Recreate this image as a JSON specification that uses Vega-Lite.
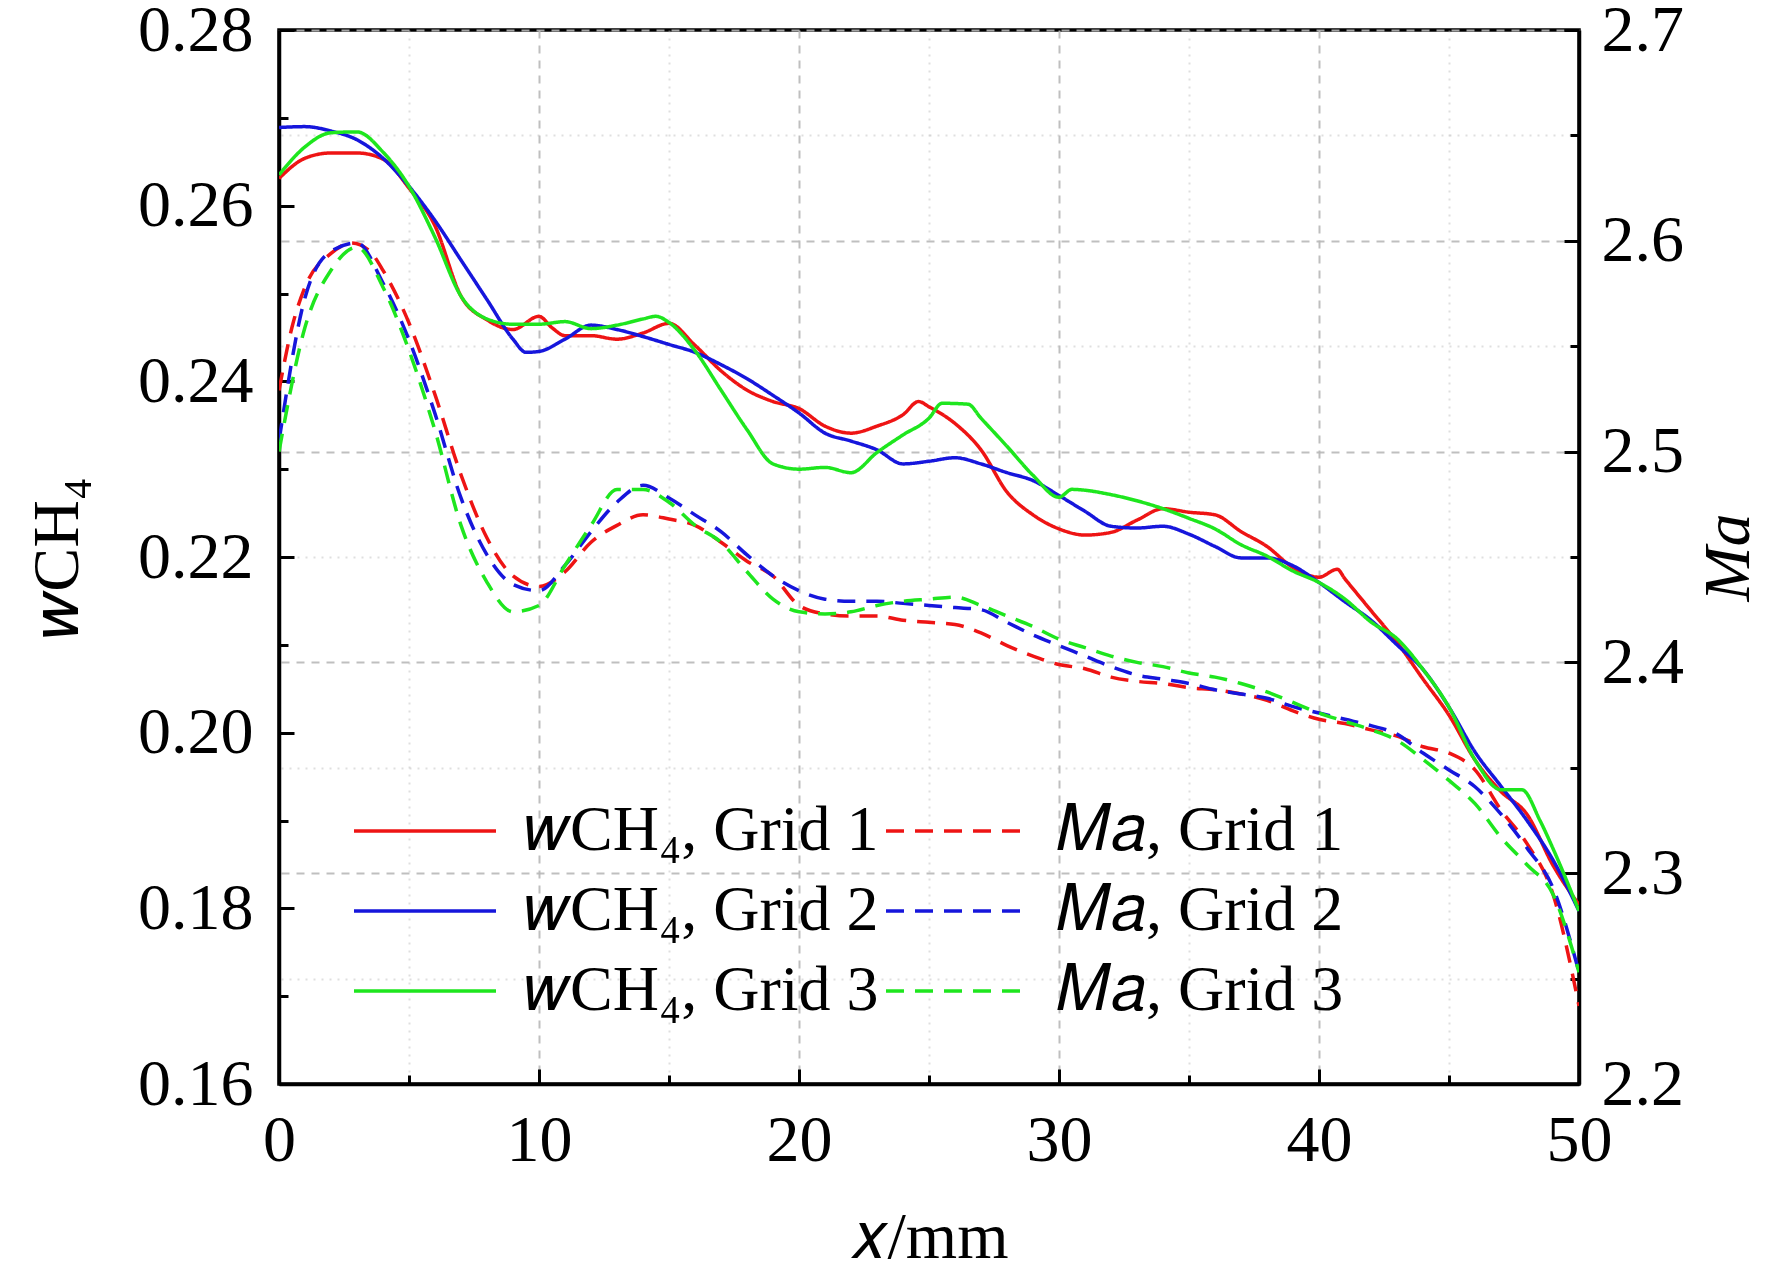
{
  "$schema": "https://vega.github.io/schema/vega-lite/v6.json",
  "width": 1300,
  "height": 1054,
  "autosize": {"type": "none"},
  "padding": {"left": 279, "top": 30, "right": 193, "bottom": 190},
  "background": "white",
  "config": {
    "font": "Liberation Serif",
    "view": {"stroke": "black", "strokeWidth": 3.5},
    "axis": {
      "domainColor": "black", "domainWidth": 3.5,
      "tickColor": "black", "tickWidth": 3,
      "labelFont": "Liberation Serif", "labelFontSize": 66, "labelColor": "black",
      "titleFont": "Liberation Serif", "titleFontSize": 66, "titleFontWeight": "normal", "titleColor": "black",
      "labelFlush": false, "labelOverlap": false, "grid": false
    }
  },
  "datasets": {
    "w": [
      {"x": 0, "s": "𝑤CH₄, Grid 1", "w": 0.2631}, {"x": 1, "s": "𝑤CH₄, Grid 1", "w": 0.2654}, {"x": 2, "s": "𝑤CH₄, Grid 1", "w": 0.266}, {"x": 3, "s": "𝑤CH₄, Grid 1", "w": 0.266},
      {"x": 4, "s": "𝑤CH₄, Grid 1", "w": 0.2653}, {"x": 5, "s": "𝑤CH₄, Grid 1", "w": 0.262}, {"x": 6, "s": "𝑤CH₄, Grid 1", "w": 0.2577}, {"x": 7, "s": "𝑤CH₄, Grid 1", "w": 0.2497},
      {"x": 8, "s": "𝑤CH₄, Grid 1", "w": 0.247}, {"x": 9, "s": "𝑤CH₄, Grid 1", "w": 0.2459}, {"x": 10, "s": "𝑤CH₄, Grid 1", "w": 0.2474}, {"x": 10.5, "s": "𝑤CH₄, Grid 1", "w": 0.2461},
      {"x": 11, "s": "𝑤CH₄, Grid 1", "w": 0.2452}, {"x": 12, "s": "𝑤CH₄, Grid 1", "w": 0.2452}, {"x": 13, "s": "𝑤CH₄, Grid 1", "w": 0.2448}, {"x": 14, "s": "𝑤CH₄, Grid 1", "w": 0.2455},
      {"x": 15, "s": "𝑤CH₄, Grid 1", "w": 0.2466}, {"x": 16, "s": "𝑤CH₄, Grid 1", "w": 0.2441}, {"x": 17, "s": "𝑤CH₄, Grid 1", "w": 0.2412}, {"x": 18, "s": "𝑤CH₄, Grid 1", "w": 0.239},
      {"x": 19, "s": "𝑤CH₄, Grid 1", "w": 0.2377}, {"x": 20, "s": "𝑤CH₄, Grid 1", "w": 0.2369}, {"x": 21, "s": "𝑤CH₄, Grid 1", "w": 0.2349}, {"x": 22, "s": "𝑤CH₄, Grid 1", "w": 0.2341},
      {"x": 23, "s": "𝑤CH₄, Grid 1", "w": 0.2349}, {"x": 24, "s": "𝑤CH₄, Grid 1", "w": 0.2362}, {"x": 24.6, "s": "𝑤CH₄, Grid 1", "w": 0.2377}, {"x": 25, "s": "𝑤CH₄, Grid 1", "w": 0.2371},
      {"x": 26, "s": "𝑤CH₄, Grid 1", "w": 0.2352}, {"x": 27, "s": "𝑤CH₄, Grid 1", "w": 0.2322}, {"x": 28, "s": "𝑤CH₄, Grid 1", "w": 0.2274}, {"x": 29, "s": "𝑤CH₄, Grid 1", "w": 0.2248},
      {"x": 30, "s": "𝑤CH₄, Grid 1", "w": 0.2232}, {"x": 31, "s": "𝑤CH₄, Grid 1", "w": 0.2225}, {"x": 32, "s": "𝑤CH₄, Grid 1", "w": 0.2228}, {"x": 33, "s": "𝑤CH₄, Grid 1", "w": 0.2242},
      {"x": 34, "s": "𝑤CH₄, Grid 1", "w": 0.2255}, {"x": 35, "s": "𝑤CH₄, Grid 1", "w": 0.2251}, {"x": 36, "s": "𝑤CH₄, Grid 1", "w": 0.2248}, {"x": 37, "s": "𝑤CH₄, Grid 1", "w": 0.2229},
      {"x": 38, "s": "𝑤CH₄, Grid 1", "w": 0.2212}, {"x": 39, "s": "𝑤CH₄, Grid 1", "w": 0.2188}, {"x": 40, "s": "𝑤CH₄, Grid 1", "w": 0.2177}, {"x": 40.7, "s": "𝑤CH₄, Grid 1", "w": 0.2186},
      {"x": 41, "s": "𝑤CH₄, Grid 1", "w": 0.2175}, {"x": 42, "s": "𝑤CH₄, Grid 1", "w": 0.2139}, {"x": 43, "s": "𝑤CH₄, Grid 1", "w": 0.2103}, {"x": 44, "s": "𝑤CH₄, Grid 1", "w": 0.2061},
      {"x": 45, "s": "𝑤CH₄, Grid 1", "w": 0.202}, {"x": 46, "s": "𝑤CH₄, Grid 1", "w": 0.1969}, {"x": 47, "s": "𝑤CH₄, Grid 1", "w": 0.1933}, {"x": 48, "s": "𝑤CH₄, Grid 1", "w": 0.1907},
      {"x": 49, "s": "𝑤CH₄, Grid 1", "w": 0.1849}, {"x": 50, "s": "𝑤CH₄, Grid 1", "w": 0.1804},

      {"x": 0, "s": "𝑤CH₄, Grid 2", "w": 0.2689}, {"x": 1, "s": "𝑤CH₄, Grid 2", "w": 0.269}, {"x": 2, "s": "𝑤CH₄, Grid 2", "w": 0.2685}, {"x": 3, "s": "𝑤CH₄, Grid 2", "w": 0.2675},
      {"x": 4, "s": "𝑤CH₄, Grid 2", "w": 0.2654}, {"x": 5, "s": "𝑤CH₄, Grid 2", "w": 0.2622}, {"x": 6, "s": "𝑤CH₄, Grid 2", "w": 0.2583}, {"x": 7, "s": "𝑤CH₄, Grid 2", "w": 0.2538},
      {"x": 8, "s": "𝑤CH₄, Grid 2", "w": 0.2493}, {"x": 9, "s": "𝑤CH₄, Grid 2", "w": 0.2448}, {"x": 9.5, "s": "𝑤CH₄, Grid 2", "w": 0.2433}, {"x": 10, "s": "𝑤CH₄, Grid 2", "w": 0.2434},
      {"x": 11, "s": "𝑤CH₄, Grid 2", "w": 0.2448}, {"x": 12, "s": "𝑤CH₄, Grid 2", "w": 0.2464}, {"x": 13, "s": "𝑤CH₄, Grid 2", "w": 0.2459}, {"x": 14, "s": "𝑤CH₄, Grid 2", "w": 0.2451},
      {"x": 15, "s": "𝑤CH₄, Grid 2", "w": 0.2442}, {"x": 16, "s": "𝑤CH₄, Grid 2", "w": 0.2433}, {"x": 17, "s": "𝑤CH₄, Grid 2", "w": 0.2419}, {"x": 18, "s": "𝑤CH₄, Grid 2", "w": 0.2403},
      {"x": 19, "s": "𝑤CH₄, Grid 2", "w": 0.2384}, {"x": 20, "s": "𝑤CH₄, Grid 2", "w": 0.2364}, {"x": 21, "s": "𝑤CH₄, Grid 2", "w": 0.2341}, {"x": 22, "s": "𝑤CH₄, Grid 2", "w": 0.2332},
      {"x": 23, "s": "𝑤CH₄, Grid 2", "w": 0.2322}, {"x": 24, "s": "𝑤CH₄, Grid 2", "w": 0.2306}, {"x": 25, "s": "𝑤CH₄, Grid 2", "w": 0.2309}, {"x": 26, "s": "𝑤CH₄, Grid 2", "w": 0.2313},
      {"x": 27, "s": "𝑤CH₄, Grid 2", "w": 0.2306}, {"x": 28, "s": "𝑤CH₄, Grid 2", "w": 0.2296}, {"x": 29, "s": "𝑤CH₄, Grid 2", "w": 0.2287}, {"x": 30, "s": "𝑤CH₄, Grid 2", "w": 0.227},
      {"x": 31, "s": "𝑤CH₄, Grid 2", "w": 0.2252}, {"x": 32, "s": "𝑤CH₄, Grid 2", "w": 0.2235}, {"x": 33, "s": "𝑤CH₄, Grid 2", "w": 0.2233}, {"x": 34, "s": "𝑤CH₄, Grid 2", "w": 0.2235},
      {"x": 35, "s": "𝑤CH₄, Grid 2", "w": 0.2226}, {"x": 36, "s": "𝑤CH₄, Grid 2", "w": 0.2212}, {"x": 37, "s": "𝑤CH₄, Grid 2", "w": 0.2199}, {"x": 38, "s": "𝑤CH₄, Grid 2", "w": 0.2199},
      {"x": 39, "s": "𝑤CH₄, Grid 2", "w": 0.219}, {"x": 40, "s": "𝑤CH₄, Grid 2", "w": 0.2171}, {"x": 41, "s": "𝑤CH₄, Grid 2", "w": 0.2149}, {"x": 42, "s": "𝑤CH₄, Grid 2", "w": 0.2128},
      {"x": 43, "s": "𝑤CH₄, Grid 2", "w": 0.21}, {"x": 44, "s": "𝑤CH₄, Grid 2", "w": 0.2072}, {"x": 45, "s": "𝑤CH₄, Grid 2", "w": 0.2029}, {"x": 46, "s": "𝑤CH₄, Grid 2", "w": 0.1978},
      {"x": 47, "s": "𝑤CH₄, Grid 2", "w": 0.1939}, {"x": 48, "s": "𝑤CH₄, Grid 2", "w": 0.19}, {"x": 49, "s": "𝑤CH₄, Grid 2", "w": 0.1855}, {"x": 50, "s": "𝑤CH₄, Grid 2", "w": 0.1797},

      {"x": 0, "s": "𝑤CH₄, Grid 3", "w": 0.2635}, {"x": 1, "s": "𝑤CH₄, Grid 3", "w": 0.2667}, {"x": 2, "s": "𝑤CH₄, Grid 3", "w": 0.2683}, {"x": 3, "s": "𝑤CH₄, Grid 3", "w": 0.2684},
      {"x": 4, "s": "𝑤CH₄, Grid 3", "w": 0.2661}, {"x": 5, "s": "𝑤CH₄, Grid 3", "w": 0.2622}, {"x": 6, "s": "𝑤CH₄, Grid 3", "w": 0.2564}, {"x": 7, "s": "𝑤CH₄, Grid 3", "w": 0.2497},
      {"x": 8, "s": "𝑤CH₄, Grid 3", "w": 0.2471}, {"x": 9, "s": "𝑤CH₄, Grid 3", "w": 0.2465}, {"x": 10, "s": "𝑤CH₄, Grid 3", "w": 0.2465}, {"x": 11, "s": "𝑤CH₄, Grid 3", "w": 0.2468},
      {"x": 12, "s": "𝑤CH₄, Grid 3", "w": 0.246}, {"x": 13, "s": "𝑤CH₄, Grid 3", "w": 0.2464}, {"x": 14, "s": "𝑤CH₄, Grid 3", "w": 0.2471}, {"x": 14.5, "s": "𝑤CH₄, Grid 3", "w": 0.2474},
      {"x": 15, "s": "𝑤CH₄, Grid 3", "w": 0.2467}, {"x": 16, "s": "𝑤CH₄, Grid 3", "w": 0.2435}, {"x": 17, "s": "𝑤CH₄, Grid 3", "w": 0.239}, {"x": 18, "s": "𝑤CH₄, Grid 3", "w": 0.2345},
      {"x": 19, "s": "𝑤CH₄, Grid 3", "w": 0.2306}, {"x": 20, "s": "𝑤CH₄, Grid 3", "w": 0.23}, {"x": 21, "s": "𝑤CH₄, Grid 3", "w": 0.2302}, {"x": 22, "s": "𝑤CH₄, Grid 3", "w": 0.2296},
      {"x": 23, "s": "𝑤CH₄, Grid 3", "w": 0.2319}, {"x": 24, "s": "𝑤CH₄, Grid 3", "w": 0.2339}, {"x": 25, "s": "𝑤CH₄, Grid 3", "w": 0.2358}, {"x": 25.5, "s": "𝑤CH₄, Grid 3", "w": 0.2375},
      {"x": 26.5, "s": "𝑤CH₄, Grid 3", "w": 0.2374}, {"x": 27, "s": "𝑤CH₄, Grid 3", "w": 0.2358}, {"x": 28, "s": "𝑤CH₄, Grid 3", "w": 0.2326}, {"x": 29, "s": "𝑤CH₄, Grid 3", "w": 0.2293},
      {"x": 30, "s": "𝑤CH₄, Grid 3", "w": 0.2268}, {"x": 30.5, "s": "𝑤CH₄, Grid 3", "w": 0.2277}, {"x": 31, "s": "𝑤CH₄, Grid 3", "w": 0.2276}, {"x": 32, "s": "𝑤CH₄, Grid 3", "w": 0.2271},
      {"x": 33, "s": "𝑤CH₄, Grid 3", "w": 0.2264}, {"x": 34, "s": "𝑤CH₄, Grid 3", "w": 0.2255}, {"x": 35, "s": "𝑤CH₄, Grid 3", "w": 0.2244}, {"x": 36, "s": "𝑤CH₄, Grid 3", "w": 0.2232},
      {"x": 37, "s": "𝑤CH₄, Grid 3", "w": 0.2214}, {"x": 38, "s": "𝑤CH₄, Grid 3", "w": 0.2201}, {"x": 39, "s": "𝑤CH₄, Grid 3", "w": 0.2184}, {"x": 40, "s": "𝑤CH₄, Grid 3", "w": 0.2171},
      {"x": 41, "s": "𝑤CH₄, Grid 3", "w": 0.2152}, {"x": 42, "s": "𝑤CH₄, Grid 3", "w": 0.2126}, {"x": 43, "s": "𝑤CH₄, Grid 3", "w": 0.2107}, {"x": 44, "s": "𝑤CH₄, Grid 3", "w": 0.2072},
      {"x": 45, "s": "𝑤CH₄, Grid 3", "w": 0.2029}, {"x": 46, "s": "𝑤CH₄, Grid 3", "w": 0.1969}, {"x": 47, "s": "𝑤CH₄, Grid 3", "w": 0.1935}, {"x": 47.8, "s": "𝑤CH₄, Grid 3", "w": 0.1935},
      {"x": 48.5, "s": "𝑤CH₄, Grid 3", "w": 0.19}, {"x": 49, "s": "𝑤CH₄, Grid 3", "w": 0.1868}, {"x": 50, "s": "𝑤CH₄, Grid 3", "w": 0.1797}
    ],
    "ma": [
      {"x": 0, "s": "𝑀𝑎, Grid 1", "ma": 2.529}, {"x": 0.5, "s": "𝑀𝑎, Grid 1", "ma": 2.559}, {"x": 1, "s": "𝑀𝑎, Grid 1", "ma": 2.578}, {"x": 2, "s": "𝑀𝑎, Grid 1", "ma": 2.594},
      {"x": 2.8, "s": "𝑀𝑎, Grid 1", "ma": 2.599}, {"x": 3.5, "s": "𝑀𝑎, Grid 1", "ma": 2.595}, {"x": 4, "s": "𝑀𝑎, Grid 1", "ma": 2.586}, {"x": 5, "s": "𝑀𝑎, Grid 1", "ma": 2.561},
      {"x": 6, "s": "𝑀𝑎, Grid 1", "ma": 2.527}, {"x": 7, "s": "𝑀𝑎, Grid 1", "ma": 2.489}, {"x": 8, "s": "𝑀𝑎, Grid 1", "ma": 2.459}, {"x": 9, "s": "𝑀𝑎, Grid 1", "ma": 2.441},
      {"x": 10, "s": "𝑀𝑎, Grid 1", "ma": 2.436}, {"x": 11, "s": "𝑀𝑎, Grid 1", "ma": 2.443}, {"x": 12, "s": "𝑀𝑎, Grid 1", "ma": 2.457}, {"x": 13, "s": "𝑀𝑎, Grid 1", "ma": 2.465},
      {"x": 14, "s": "𝑀𝑎, Grid 1", "ma": 2.47}, {"x": 15, "s": "𝑀𝑎, Grid 1", "ma": 2.468}, {"x": 16, "s": "𝑀𝑎, Grid 1", "ma": 2.465}, {"x": 17, "s": "𝑀𝑎, Grid 1", "ma": 2.457},
      {"x": 18, "s": "𝑀𝑎, Grid 1", "ma": 2.448}, {"x": 19, "s": "𝑀𝑎, Grid 1", "ma": 2.441}, {"x": 20, "s": "𝑀𝑎, Grid 1", "ma": 2.427}, {"x": 21, "s": "𝑀𝑎, Grid 1", "ma": 2.423},
      {"x": 22, "s": "𝑀𝑎, Grid 1", "ma": 2.422}, {"x": 23, "s": "𝑀𝑎, Grid 1", "ma": 2.422}, {"x": 24, "s": "𝑀𝑎, Grid 1", "ma": 2.42}, {"x": 25, "s": "𝑀𝑎, Grid 1", "ma": 2.419},
      {"x": 26, "s": "𝑀𝑎, Grid 1", "ma": 2.418}, {"x": 27, "s": "𝑀𝑎, Grid 1", "ma": 2.414}, {"x": 28, "s": "𝑀𝑎, Grid 1", "ma": 2.408}, {"x": 29, "s": "𝑀𝑎, Grid 1", "ma": 2.403},
      {"x": 30, "s": "𝑀𝑎, Grid 1", "ma": 2.399}, {"x": 31, "s": "𝑀𝑎, Grid 1", "ma": 2.397}, {"x": 32, "s": "𝑀𝑎, Grid 1", "ma": 2.393}, {"x": 33, "s": "𝑀𝑎, Grid 1", "ma": 2.391},
      {"x": 34, "s": "𝑀𝑎, Grid 1", "ma": 2.39}, {"x": 35, "s": "𝑀𝑎, Grid 1", "ma": 2.388}, {"x": 36, "s": "𝑀𝑎, Grid 1", "ma": 2.387}, {"x": 37, "s": "𝑀𝑎, Grid 1", "ma": 2.385},
      {"x": 38, "s": "𝑀𝑎, Grid 1", "ma": 2.382}, {"x": 39, "s": "𝑀𝑎, Grid 1", "ma": 2.377}, {"x": 40, "s": "𝑀𝑎, Grid 1", "ma": 2.373}, {"x": 41, "s": "𝑀𝑎, Grid 1", "ma": 2.371},
      {"x": 42, "s": "𝑀𝑎, Grid 1", "ma": 2.368}, {"x": 43, "s": "𝑀𝑎, Grid 1", "ma": 2.365}, {"x": 44, "s": "𝑀𝑎, Grid 1", "ma": 2.36}, {"x": 45, "s": "𝑀𝑎, Grid 1", "ma": 2.357},
      {"x": 46, "s": "𝑀𝑎, Grid 1", "ma": 2.349}, {"x": 47, "s": "𝑀𝑎, Grid 1", "ma": 2.33}, {"x": 48, "s": "𝑀𝑎, Grid 1", "ma": 2.314}, {"x": 49, "s": "𝑀𝑎, Grid 1", "ma": 2.29},
      {"x": 50, "s": "𝑀𝑎, Grid 1", "ma": 2.237},

      {"x": 0, "s": "𝑀𝑎, Grid 2", "ma": 2.505}, {"x": 1, "s": "𝑀𝑎, Grid 2", "ma": 2.573}, {"x": 2, "s": "𝑀𝑎, Grid 2", "ma": 2.595}, {"x": 3, "s": "𝑀𝑎, Grid 2", "ma": 2.599},
      {"x": 4, "s": "𝑀𝑎, Grid 2", "ma": 2.58}, {"x": 5, "s": "𝑀𝑎, Grid 2", "ma": 2.553}, {"x": 6, "s": "𝑀𝑎, Grid 2", "ma": 2.518}, {"x": 7, "s": "𝑀𝑎, Grid 2", "ma": 2.478},
      {"x": 8, "s": "𝑀𝑎, Grid 2", "ma": 2.451}, {"x": 9, "s": "𝑀𝑎, Grid 2", "ma": 2.437}, {"x": 10, "s": "𝑀𝑎, Grid 2", "ma": 2.434}, {"x": 11, "s": "𝑀𝑎, Grid 2", "ma": 2.446},
      {"x": 12, "s": "𝑀𝑎, Grid 2", "ma": 2.462}, {"x": 13, "s": "𝑀𝑎, Grid 2", "ma": 2.476}, {"x": 14, "s": "𝑀𝑎, Grid 2", "ma": 2.484}, {"x": 15, "s": "𝑀𝑎, Grid 2", "ma": 2.478},
      {"x": 16, "s": "𝑀𝑎, Grid 2", "ma": 2.47}, {"x": 17, "s": "𝑀𝑎, Grid 2", "ma": 2.462}, {"x": 18, "s": "𝑀𝑎, Grid 2", "ma": 2.451}, {"x": 19, "s": "𝑀𝑎, Grid 2", "ma": 2.441},
      {"x": 20, "s": "𝑀𝑎, Grid 2", "ma": 2.434}, {"x": 21, "s": "𝑀𝑎, Grid 2", "ma": 2.43}, {"x": 22, "s": "𝑀𝑎, Grid 2", "ma": 2.429}, {"x": 23, "s": "𝑀𝑎, Grid 2", "ma": 2.429},
      {"x": 24, "s": "𝑀𝑎, Grid 2", "ma": 2.428}, {"x": 25, "s": "𝑀𝑎, Grid 2", "ma": 2.427}, {"x": 26, "s": "𝑀𝑎, Grid 2", "ma": 2.426}, {"x": 27, "s": "𝑀𝑎, Grid 2", "ma": 2.425},
      {"x": 28, "s": "𝑀𝑎, Grid 2", "ma": 2.419}, {"x": 29, "s": "𝑀𝑎, Grid 2", "ma": 2.413}, {"x": 30, "s": "𝑀𝑎, Grid 2", "ma": 2.408}, {"x": 31, "s": "𝑀𝑎, Grid 2", "ma": 2.403},
      {"x": 32, "s": "𝑀𝑎, Grid 2", "ma": 2.398}, {"x": 33, "s": "𝑀𝑎, Grid 2", "ma": 2.394}, {"x": 34, "s": "𝑀𝑎, Grid 2", "ma": 2.392}, {"x": 35, "s": "𝑀𝑎, Grid 2", "ma": 2.39},
      {"x": 36, "s": "𝑀𝑎, Grid 2", "ma": 2.387}, {"x": 37, "s": "𝑀𝑎, Grid 2", "ma": 2.385}, {"x": 38, "s": "𝑀𝑎, Grid 2", "ma": 2.383}, {"x": 39, "s": "𝑀𝑎, Grid 2", "ma": 2.379},
      {"x": 40, "s": "𝑀𝑎, Grid 2", "ma": 2.376}, {"x": 41, "s": "𝑀𝑎, Grid 2", "ma": 2.373}, {"x": 42, "s": "𝑀𝑎, Grid 2", "ma": 2.37}, {"x": 43, "s": "𝑀𝑎, Grid 2", "ma": 2.366},
      {"x": 44, "s": "𝑀𝑎, Grid 2", "ma": 2.357}, {"x": 45, "s": "𝑀𝑎, Grid 2", "ma": 2.349}, {"x": 46, "s": "𝑀𝑎, Grid 2", "ma": 2.341}, {"x": 47, "s": "𝑀𝑎, Grid 2", "ma": 2.328},
      {"x": 48, "s": "𝑀𝑎, Grid 2", "ma": 2.312}, {"x": 49, "s": "𝑀𝑎, Grid 2", "ma": 2.293}, {"x": 50, "s": "𝑀𝑎, Grid 2", "ma": 2.253},

      {"x": 0, "s": "𝑀𝑎, Grid 3", "ma": 2.5}, {"x": 1, "s": "𝑀𝑎, Grid 3", "ma": 2.559}, {"x": 2, "s": "𝑀𝑎, Grid 3", "ma": 2.586}, {"x": 3, "s": "𝑀𝑎, Grid 3", "ma": 2.597},
      {"x": 4, "s": "𝑀𝑎, Grid 3", "ma": 2.578}, {"x": 5, "s": "𝑀𝑎, Grid 3", "ma": 2.548}, {"x": 6, "s": "𝑀𝑎, Grid 3", "ma": 2.51}, {"x": 7, "s": "𝑀𝑎, Grid 3", "ma": 2.465},
      {"x": 8, "s": "𝑀𝑎, Grid 3", "ma": 2.438}, {"x": 9, "s": "𝑀𝑎, Grid 3", "ma": 2.424}, {"x": 10, "s": "𝑀𝑎, Grid 3", "ma": 2.427}, {"x": 11, "s": "𝑀𝑎, Grid 3", "ma": 2.446},
      {"x": 12, "s": "𝑀𝑎, Grid 3", "ma": 2.465}, {"x": 13, "s": "𝑀𝑎, Grid 3", "ma": 2.482}, {"x": 14, "s": "𝑀𝑎, Grid 3", "ma": 2.482}, {"x": 15, "s": "𝑀𝑎, Grid 3", "ma": 2.476},
      {"x": 16, "s": "𝑀𝑎, Grid 3", "ma": 2.465}, {"x": 17, "s": "𝑀𝑎, Grid 3", "ma": 2.457}, {"x": 18, "s": "𝑀𝑎, Grid 3", "ma": 2.443}, {"x": 19, "s": "𝑀𝑎, Grid 3", "ma": 2.43},
      {"x": 20, "s": "𝑀𝑎, Grid 3", "ma": 2.424}, {"x": 21, "s": "𝑀𝑎, Grid 3", "ma": 2.423}, {"x": 22, "s": "𝑀𝑎, Grid 3", "ma": 2.424}, {"x": 23, "s": "𝑀𝑎, Grid 3", "ma": 2.427},
      {"x": 24, "s": "𝑀𝑎, Grid 3", "ma": 2.429}, {"x": 25, "s": "𝑀𝑎, Grid 3", "ma": 2.43}, {"x": 26, "s": "𝑀𝑎, Grid 3", "ma": 2.431}, {"x": 27, "s": "𝑀𝑎, Grid 3", "ma": 2.427},
      {"x": 28, "s": "𝑀𝑎, Grid 3", "ma": 2.422}, {"x": 29, "s": "𝑀𝑎, Grid 3", "ma": 2.417}, {"x": 30, "s": "𝑀𝑎, Grid 3", "ma": 2.411}, {"x": 31, "s": "𝑀𝑎, Grid 3", "ma": 2.407},
      {"x": 32, "s": "𝑀𝑎, Grid 3", "ma": 2.403}, {"x": 33, "s": "𝑀𝑎, Grid 3", "ma": 2.4}, {"x": 34, "s": "𝑀𝑎, Grid 3", "ma": 2.398}, {"x": 35, "s": "𝑀𝑎, Grid 3", "ma": 2.395},
      {"x": 36, "s": "𝑀𝑎, Grid 3", "ma": 2.393}, {"x": 37, "s": "𝑀𝑎, Grid 3", "ma": 2.39}, {"x": 38, "s": "𝑀𝑎, Grid 3", "ma": 2.386}, {"x": 39, "s": "𝑀𝑎, Grid 3", "ma": 2.381},
      {"x": 40, "s": "𝑀𝑎, Grid 3", "ma": 2.376}, {"x": 41, "s": "𝑀𝑎, Grid 3", "ma": 2.372}, {"x": 42, "s": "𝑀𝑎, Grid 3", "ma": 2.368}, {"x": 43, "s": "𝑀𝑎, Grid 3", "ma": 2.363},
      {"x": 44, "s": "𝑀𝑎, Grid 3", "ma": 2.354}, {"x": 45, "s": "𝑀𝑎, Grid 3", "ma": 2.344}, {"x": 46, "s": "𝑀𝑎, Grid 3", "ma": 2.333}, {"x": 47, "s": "𝑀𝑎, Grid 3", "ma": 2.317},
      {"x": 48, "s": "𝑀𝑎, Grid 3", "ma": 2.304}, {"x": 49, "s": "𝑀𝑎, Grid 3", "ma": 2.29}, {"x": 50, "s": "𝑀𝑎, Grid 3", "ma": 2.253}
    ]
  },
  "layer": [
    {
      "data": {"name": "w"},
      "mark": {"type": "line", "strokeWidth": 3.5, "interpolate": "monotone", "clip": true},
      "encoding": {
        "x": {
          "field": "x", "type": "quantitative",
          "scale": {"domain": [0, 50], "nice": false},
          "axis": {
            "title": "𝑥/mm", "titlePadding": 26,
            "values": [0, 5, 10, 15, 20, 25, 30, 35, 40, 45, 50],
            "labelExpr": "datum.value % 10 === 0 ? datum.label : ''",
            "labelPadding": 39,
            "tickSize": {"condition": {"test": "datum.value % 10 === 0", "value": -15}, "value": -9},
            "grid": true, "gridColor": "#b8b8b8", "gridWidth": 2,
            "gridDash": {"condition": {"test": "datum.value % 10 === 0", "value": [8, 7]}, "value": [2, 6]},
            "gridOpacity": {"condition": {"test": "datum.value % 10 === 0", "value": 0.9}, "value": 0.45}
          }
        },
        "y": {
          "field": "w", "type": "quantitative",
          "scale": {"domain": [0.16, 0.28], "nice": false, "zero": false},
          "axis": {
            "title": "𝑤CH₄", "titlePadding": 46,
            "values": [0.16, 0.17, 0.18, 0.19, 0.2, 0.21, 0.22, 0.23, 0.24, 0.25, 0.26, 0.27, 0.28],
            "labelExpr": "round(datum.value * 100) % 2 === 0 ? format(datum.value, '.2f') : ''",
            "labelPadding": 41,
            "tickSize": {"condition": {"test": "round(datum.value * 100) % 2 === 0", "value": -15}, "value": -9}
          }
        },
        "color": {
          "field": "s", "type": "nominal", "title": null,
          "scale": {
            "domain": ["𝑤CH₄, Grid 1", "𝑤CH₄, Grid 2", "𝑤CH₄, Grid 3", "𝑀𝑎, Grid 1", "𝑀𝑎, Grid 2", "𝑀𝑎, Grid 3"],
            "range": ["#ee1414", "#1616dc", "#1ee61e", "#ee1414", "#1616dc", "#1ee61e"]
          },
          "legend": {
            "orient": "none", "legendX": 160, "legendY": 769, "columns": 2,
            "symbolType": "M-4.68,0H1", "symbolSize": 2500, "symbolStrokeWidth": 3.5,
            "labelFont": "Liberation Serif", "labelFontSize": 64, "labelColor": "black", "labelLimit": 0,
            "labelOffset": 22, "columnPadding": 0, "rowPadding": 16
          }
        },
        "strokeDash": {
          "field": "s", "type": "nominal", "title": null,
          "scale": {
            "domain": ["𝑤CH₄, Grid 1", "𝑤CH₄, Grid 2", "𝑤CH₄, Grid 3", "𝑀𝑎, Grid 1", "𝑀𝑎, Grid 2", "𝑀𝑎, Grid 3"],
            "range": [[1, 0], [1, 0], [1, 0], [18, 11], [18, 11], [18, 11]]
          },
          "legend": {
            "orient": "none", "legendX": 160, "legendY": 769, "columns": 2,
            "symbolType": "M-4.68,0H1", "symbolSize": 2500, "symbolStrokeWidth": 3.5,
            "labelFont": "Liberation Serif", "labelFontSize": 64, "labelColor": "black", "labelLimit": 0,
            "labelOffset": 22, "columnPadding": 0, "rowPadding": 16
          }
        }
      }
    },
    {
      "data": {"name": "ma"},
      "mark": {"type": "line", "strokeWidth": 3.5, "interpolate": "monotone", "clip": true},
      "encoding": {
        "x": {"field": "x", "type": "quantitative"},
        "y": {
          "field": "ma", "type": "quantitative",
          "scale": {"domain": [2.2, 2.7], "nice": false, "zero": false},
          "axis": {
            "orient": "right", "title": "Ma", "titleFontStyle": "italic", "titleAngle": 270, "titlePadding": 79,
            "values": [2.2, 2.25, 2.3, 2.35, 2.4, 2.45, 2.5, 2.55, 2.6, 2.65, 2.7],
            "labelExpr": "round(datum.value * 100) % 10 === 0 ? format(datum.value, '.1f') : ''",
            "labelPadding": 37,
            "tickSize": {"condition": {"test": "round(datum.value * 100) % 10 === 0", "value": -15}, "value": -9},
            "grid": true, "gridColor": "#b8b8b8", "gridWidth": 2,
            "gridDash": {"condition": {"test": "round(datum.value * 100) % 10 === 0", "value": [8, 7]}, "value": [2, 6]},
            "gridOpacity": {"condition": {"test": "round(datum.value * 100) % 10 === 0", "value": 0.9}, "value": 0.45}
          }
        },
        "color": {"field": "s", "type": "nominal", "title": null},
        "strokeDash": {"field": "s", "type": "nominal", "title": null}
      }
    }
  ],
  "resolve": {"scale": {"y": "independent"}}
}
